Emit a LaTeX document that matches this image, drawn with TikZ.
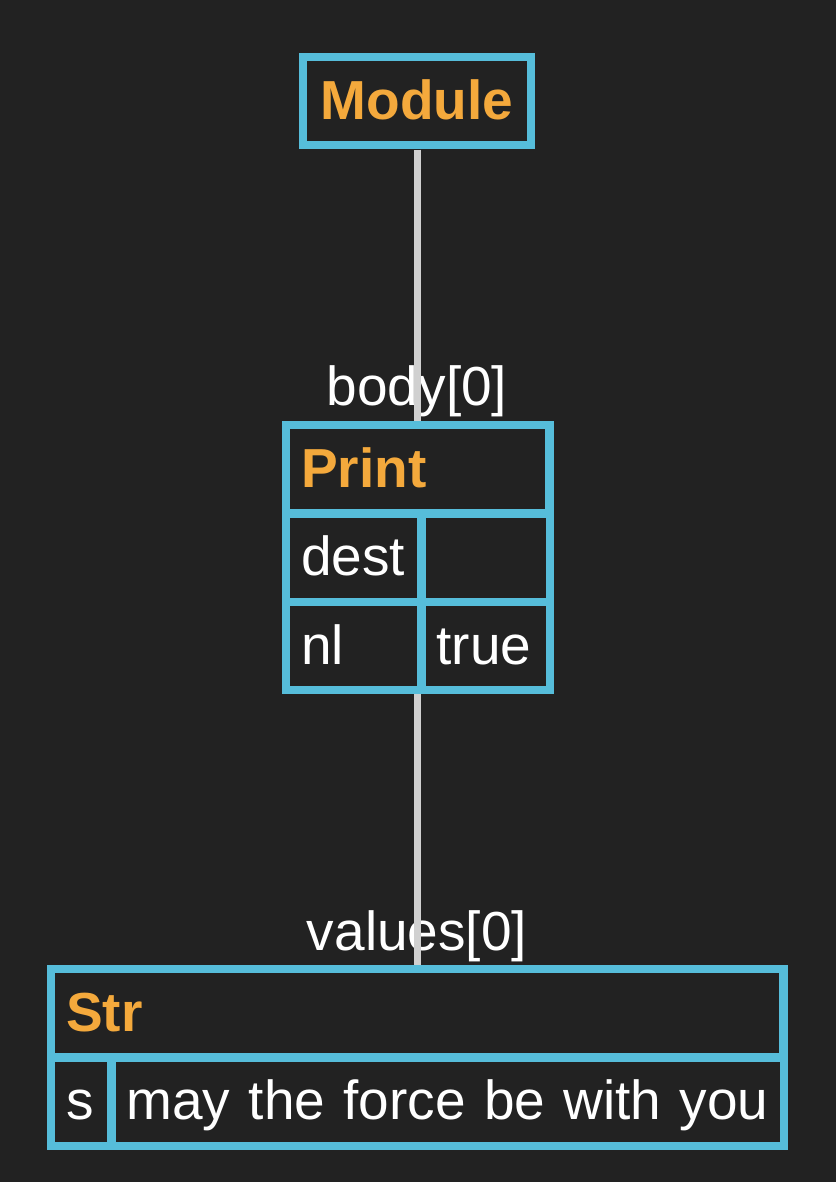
\documentclass[tikz,border=0pt]{standalone}
\usepackage{fontspec}
\setmainfont{Liberation Sans}
\usetikzlibrary{
  positioning,
  fit,
  calc,
  backgrounds
}
\definecolor{astbg}{RGB}{34,34,34}
\definecolor{astcyan}{RGB}{86,189,218}
\definecolor{astorange}{RGB}{244,169,60}
\definecolor{astgray}{RGB}{208,208,208}
\tikzset{
  cell/.style={
    rectangle, fill=astbg, inner xsep=11pt, inner ysep=0pt,
    minimum height=80pt, text height=40pt, text depth=4pt,
    text=white, align=left, font=\fontsize{55}{66}\selectfont
  },
  cellH/.style={
    cell, text=astorange, font=\fontsize{55}{66}\selectfont\bfseries
  },
  tblbox/.style={
    rectangle, fill=astcyan, inner sep=8pt
  },
  fieldlbl/.style={
    text=white, anchor=base, inner sep=0pt,
    font=\fontsize{55}{66}\selectfont
  },
  astedge/.style={draw=astgray, line width=7pt}
}

\begin{document}
\begin{tikzpicture}[x=1pt, y=-1pt]
  \begin{scope}[on background layer]
    \fill[astbg] (0,0) rectangle (836,1182);
  \end{scope}
  \useasboundingbox (0,0) rectangle (836,1182);

  % Module
  \node[cellH, anchor=north west, text width=198pt, align=center] (modhd) at (307,61) {Module};

  % Print
  \node[cellH, anchor=north west, text width=233pt] (printhd) at (290,429) {Print};
  \node[cell, below right=8pt and 0pt of printhd.south west, text width=105pt] (dest) {dest};
  \node[cell, right=8pt of dest, text width=98pt] (destv) {};
  \node[cell, below right=8pt and 0pt of dest.south west, text width=105pt] (nl) {nl};
  \node[cell, right=8pt of nl, text width=98pt] (nlv) {true};

  % Str
  \node[cellH, anchor=north west, text width=702pt] (strhd) at (55,973) {Str};
  \node[cell, below right=8pt and 0pt of strhd.south west, text width=30pt] (s) {s};
  \node[cell, right=8pt of s, text width=642pt] (sv) {\mbox{may the force be with you}};

  \begin{scope}[on background layer]
    \node[tblbox, fit=(modhd)] (module) {};
    \node[tblbox, fit=(printhd)(nlv)] (print) {};
    \node[tblbox, fit=(strhd)(sv)] (str) {};
  \end{scope}

  \node[fieldlbl] (bodylbl) at (417,405) {body[0]};
  \node[fieldlbl] (valueslbl) at (417,950) {values[0]};

  \draw[astedge] (module.south) -- (module.south |- print.north);
  \draw[astedge] (module.south |- print.south) -- (module.south |- str.north);
\end{tikzpicture}
\end{document}
